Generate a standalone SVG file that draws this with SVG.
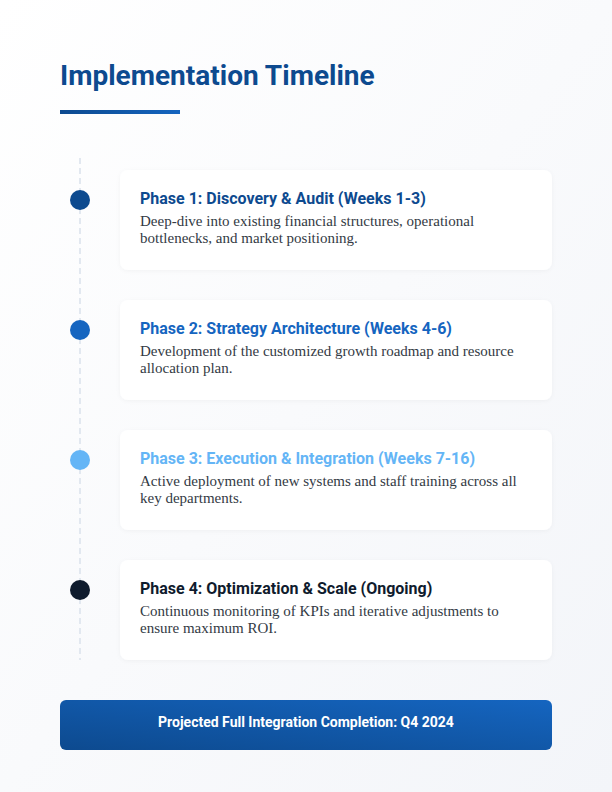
<svg xmlns="http://www.w3.org/2000/svg" width="612" height="792" viewBox="0 0 612 792">
<defs>
<linearGradient id="bg" x1="0" y1="0" x2="1" y2="1">
<stop offset="0" stop-color="#ffffff"/>
<stop offset="1" stop-color="#f3f5f9"/>
</linearGradient>
<linearGradient id="blue" x1="0" y1="0" x2="1" y2="0">
<stop offset="0" stop-color="#0d4a8f"/>
<stop offset="1" stop-color="#1565c0"/>
</linearGradient>
<linearGradient id="foot" x1="0" y1="1" x2="1" y2="0">
<stop offset="0" stop-color="#0d4a8f"/>
<stop offset="1" stop-color="#1565c0"/>
</linearGradient>
<filter id="sh" x="-10%" y="-20%" width="120%" height="140%">
<feDropShadow dx="0" dy="1" stdDeviation="2" flood-color="#0f172a" flood-opacity="0.04"/>
</filter>
</defs>
<style>
.title{font-family:Roboto,"Liberation Sans",sans-serif;font-weight:700;font-size:28px;fill:#0d4a8f}
.card{fill:#ffffff;filter:url(#sh)}
.h{font-family:Roboto,"Liberation Sans",sans-serif;font-weight:700;font-size:16px}
.d{font-family:"Liberation Serif",serif;font-size:15px;fill:#333a44}
.foot{font-family:Roboto,"Liberation Sans",sans-serif;font-weight:700;font-size:14px;fill:#ffffff}
</style>
<rect x="0" y="0" width="612" height="792" fill="url(#bg)"/>
<g id="header">
<text class="title" x="60" y="85">Implementation Timeline</text>
<rect x="60" y="110" width="120" height="4" fill="url(#blue)"/>
</g>
<g id="connectors">
<line x1="80" y1="158" x2="80" y2="660" stroke="#e2e8f0" stroke-width="2" stroke-dasharray="6 4"/>
</g>
<g id="phase1">
<rect class="card" x="120" y="170" width="432" height="100" rx="8"/>
<circle cx="80" cy="200" r="10" fill="#0d4a8f"/>
<text class="h" x="140" y="204" fill="#0d4a8f">Phase 1: Discovery &amp; Audit (Weeks 1-3)</text>
<text class="d" x="140" y="226">Deep-dive into existing financial structures, operational</text>
<text class="d" x="140" y="243">bottlenecks, and market positioning.</text>
</g>
<g id="phase2">
<rect class="card" x="120" y="300" width="432" height="100" rx="8"/>
<circle cx="80" cy="330" r="10" fill="#1565c0"/>
<text class="h" x="140" y="334" fill="#1565c0">Phase 2: Strategy Architecture (Weeks 4-6)</text>
<text class="d" x="140" y="356">Development of the customized growth roadmap and resource</text>
<text class="d" x="140" y="373">allocation plan.</text>
</g>
<g id="phase3">
<rect class="card" x="120" y="430" width="432" height="100" rx="8"/>
<circle cx="80" cy="460" r="10" fill="#64b5f6"/>
<text class="h" x="140" y="464" fill="#64b5f6">Phase 3: Execution &amp; Integration (Weeks 7-16)</text>
<text class="d" x="140" y="486">Active deployment of new systems and staff training across all</text>
<text class="d" x="140" y="503">key departments.</text>
</g>
<g id="phase4">
<rect class="card" x="120" y="560" width="432" height="100" rx="8"/>
<circle cx="80" cy="590" r="10" fill="#0f1b2d"/>
<text class="h" x="140" y="594" fill="#0f1b2d">Phase 4: Optimization &amp; Scale (Ongoing)</text>
<text class="d" x="140" y="616">Continuous monitoring of KPIs and iterative adjustments to</text>
<text class="d" x="140" y="633">ensure maximum ROI.</text>
</g>
<g id="footer">
<rect x="60" y="700" width="492" height="50" rx="6" fill="url(#foot)"/>
<text class="foot" x="306" y="727" text-anchor="middle">Projected Full Integration Completion: Q4 2024</text>
</g>
</svg>
